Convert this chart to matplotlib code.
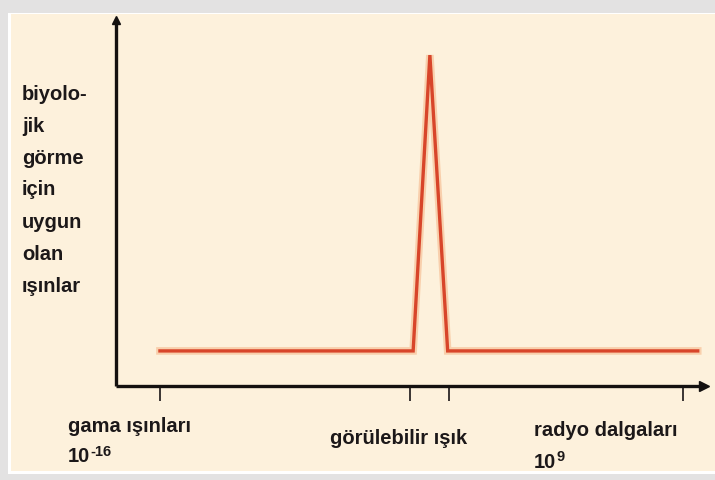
import matplotlib.pyplot as plt
from matplotlib.patches import Rectangle

# schematic spectrum, x in powers of ten (wavelength exponent)
line_x = [-16.0, -3.9, -3.1, -2.25, 9.7]
line_y = [0.106, 0.106, 1.0, 0.106, 0.106]
tick_x = [-16.0, -4.05, -2.2, 9.0]
ylabel_lines = ["biyolo-", "jik", "görme", "için", "uygun", "olan", "ışınlar"]

plt.rcParams['font.family'] = ['Liberation Sans', 'DejaVu Sans']

fig = plt.figure(figsize=(7.15, 4.80), dpi=100)
fig.patch.set_facecolor("#e3e2e2")

W, H = 715.0, 480.0
# white frame + cream panel
fig.patches.append(Rectangle((8 / W, 6 / H), 1, 461 / H, transform=fig.transFigure,
                             facecolor="white", edgecolor="none", zorder=-20))
fig.patches.append(Rectangle((11 / W, 9 / H), 1, 457 / H, transform=fig.transFigure,
                             facecolor="#fdf1dc", edgecolor="none", zorder=-10))

ax = fig.add_axes([116 / W, 94 / H, (704 - 116) / W, (386 - 20) / H])
ax.patch.set_visible(False)
ax.set_xlim(-18.1, 10.0)
ax.set_ylim(0, 1.106)

for s in ["top", "right"]:
    ax.spines[s].set_visible(False)
for s in ["left", "bottom"]:
    ax.spines[s].set_linewidth(2.4)
    ax.spines[s].set_color("#141110")
    ax.spines[s].set_capstyle("butt")

# arrow heads
ax.plot(1, 0, ">", color="#141110", markersize=7, transform=ax.transAxes, clip_on=False)
ax.plot(0, 1, "^", color="#141110", markersize=6, transform=ax.transAxes, clip_on=False)

ax.set_yticks([])
ax.set_xticks(tick_x)
ax.set_xticklabels([])
ax.tick_params(axis="x", direction="out", length=11, width=1.4, color="#3a3433")

# glow + line
ax.plot(line_x, line_y, color="#f6b98c", lw=5.5, solid_joinstyle="miter", alpha=0.6, clip_on=False)
ax.plot(line_x, line_y, color="#d8452a", lw=2.4, solid_joinstyle="miter", clip_on=False)

tc = "#1c1819"
fs = 14.5
for i, t in enumerate(ylabel_lines):
    fig.text(22 / W, 1 - (94 + 32 * i) / H, t, fontsize=fs, fontweight="bold",
             color=tc, va="center", ha="left")

fig.text(68 / W, 1 - 427 / H, "gama ışınları", fontsize=fs, fontweight="bold", color=tc, va="center")
fig.text(399 / W, 1 - 438 / H, "görülebilir ışık", fontsize=fs, fontweight="bold", color=tc,
         va="center", ha="center")
fig.text(534 / W, 1 - 431 / H, "radyo dalgaları", fontsize=fs, fontweight="bold", color=tc, va="center")

# powers of ten with plain hyphen superscripts
for (px, py, exp) in [(68, 457, "-16"), (534, 462, "9")]:
    base = fig.text(px / W, 1 - py / H, "10", fontsize=fs, fontweight="bold", color=tc, va="center")
    ax.annotate(exp, xy=(1, 1), xycoords=base, xytext=(0.3, -3), textcoords="offset points",
                fontsize=10.5, fontweight="bold", color=tc, ha="left", va="center",
                annotation_clip=False)

fig.savefig("out.png", dpi=100, facecolor=fig.get_facecolor())
